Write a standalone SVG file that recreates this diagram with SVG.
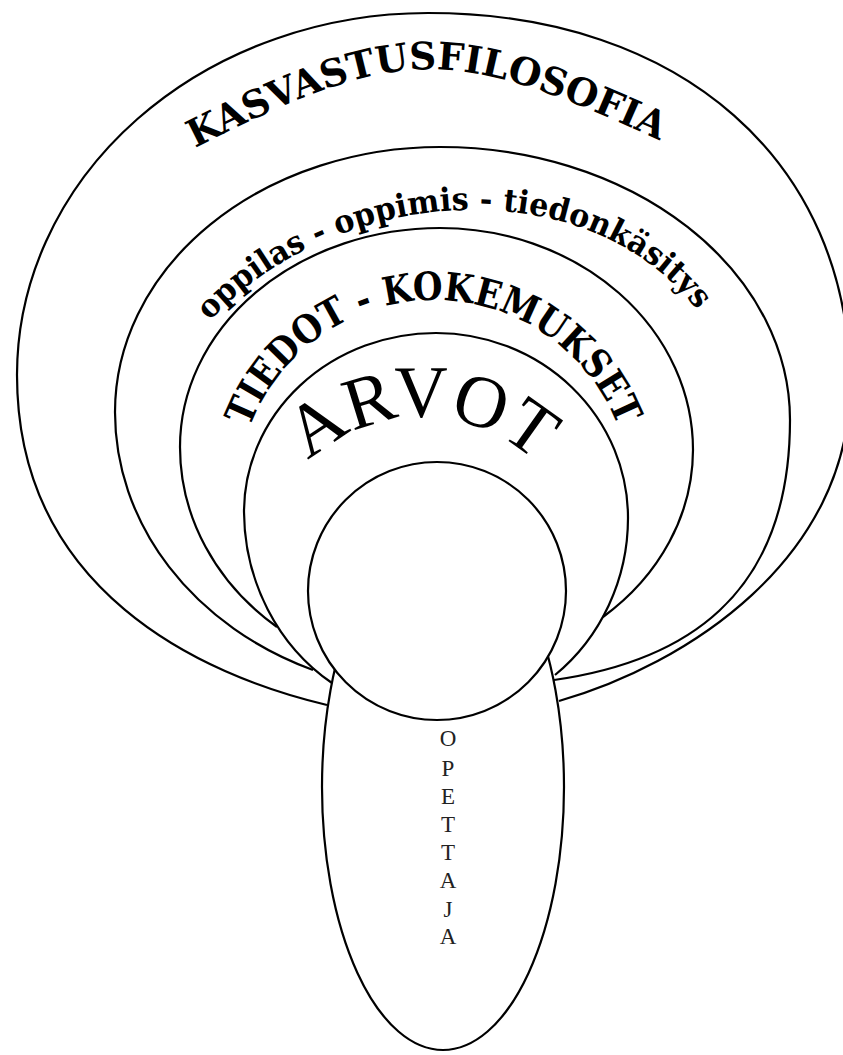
<svg xmlns="http://www.w3.org/2000/svg" width="843" height="1055" viewBox="0 0 843 1055">
<style>
.ring{fill:none;stroke:#000;stroke-width:2.2}
.shape{fill:#fff;stroke:#000;stroke-width:2.2}
.lbl{font-family:"DejaVu Serif","Liberation Serif",serif;font-weight:bold;fill:#000}
.arvot{font-family:"Liberation Serif",serif;fill:#000}
.vert{font-family:"Liberation Serif",serif;font-size:23px;fill:#222;text-anchor:middle}
</style>
<defs>
<path id="p1" d="M195,148 C401,44 451,44 665,143"/>
<path id="p2" d="M210,321 C332,186 592,161 704,319"/>
<path id="p3" d="M249.5,428 A197,197 0 0 1 618.5,428"/>
<path id="p4" d="M299,472 A165,165 0 0 1 545,472"/>
</defs>
<rect width="843" height="1055" fill="#fff"/>
<g id="rings">
<path id="ring1" class="ring" d="M327,705 C200,675 17,590 17,375 A411,362 0 0 1 428,13 C681,13 850,162 850,385 C850,560 685,665 559,701"/>
<path id="ring2" class="ring" d="M313,670 A325,280 0 0 1 115,412 A325,265 0 0 1 440,147 A350,273 0 0 1 790,420 C790,600 680,662 554,680"/>
<path id="ring3" class="ring" d="M277,627 A260,231 0 0 1 180,447 A260,219 0 0 1 440,228 A253,222 0 0 1 693,450 A253,219 0 0 1 603,617"/>
<path id="ring4" class="ring" d="M332,683 A192,205 0 0 1 244,512 A192,179 0 0 1 436,333 A192,185 0 0 1 628,518 A192,200 0 0 1 555,675"/>
</g>
<g id="teacher">
<ellipse id="body" class="shape" cx="443" cy="787" rx="121" ry="263"/>
<circle id="head" class="shape" cx="437" cy="591" r="129"/>
<text class="vert"><tspan x="448" y="746">O</tspan><tspan x="448" y="776">P</tspan><tspan x="448" y="804">E</tspan><tspan x="448" y="832">T</tspan><tspan x="448" y="860">T</tspan><tspan x="448" y="888">A</tspan><tspan x="448" y="917">J</tspan><tspan x="448" y="944">A</tspan></text>
</g>
<g id="labels">
<text class="lbl" font-size="38"><textPath href="#p1" textLength="492" lengthAdjust="spacingAndGlyphs">KASVASTUSFILOSOFIA</textPath></text>
<text class="lbl" font-size="32"><textPath href="#p2" textLength="548" lengthAdjust="spacingAndGlyphs">oppilas - oppimis - tiedonkäsitys</textPath></text>
<text class="lbl" font-size="39"><textPath href="#p3" textLength="476" lengthAdjust="spacingAndGlyphs">TIEDOT - KOKEMUKSET</textPath></text>
<text class="arvot" font-size="74"><textPath href="#p4" startOffset="50%" text-anchor="middle">ARVOT</textPath></text>
</g>
</svg>
